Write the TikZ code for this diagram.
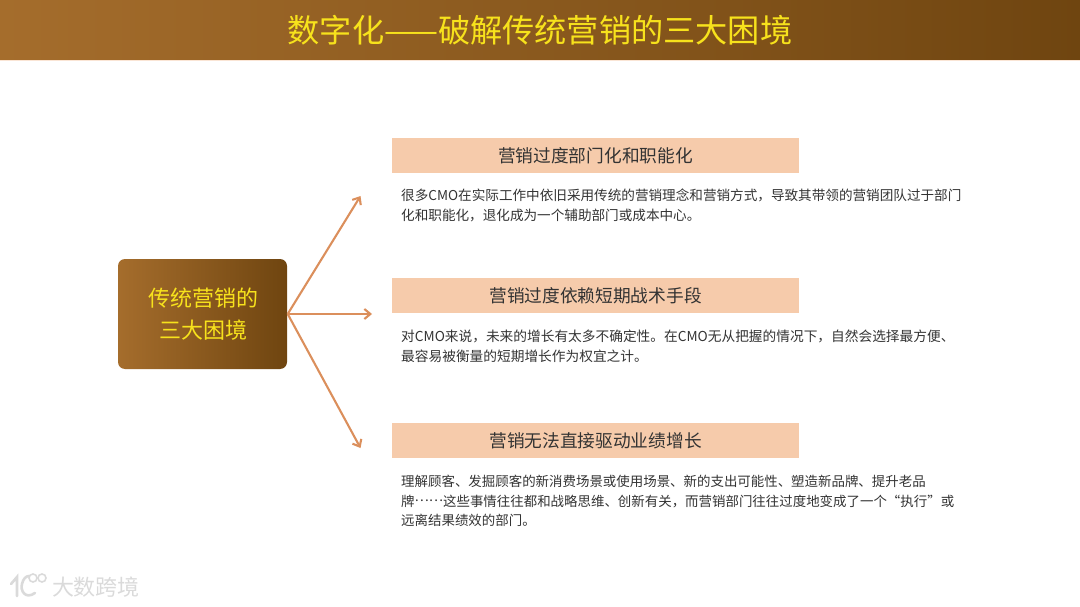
\documentclass[tikz,border=0pt]{standalone}
\usepackage{fontspec}
\setmainfont{Noto Sans CJK SC}
\usepackage{xcolor}
\usetikzlibrary{arrows.meta}
\definecolor{GoldLight}{HTML}{A56D2C}
\definecolor{GoldMid}{HTML}{94622A}
\definecolor{GoldDark}{HTML}{6F4510}
\definecolor{TitleYellow}{HTML}{F7E21C}
\definecolor{HeadPeach}{HTML}{F6CBAB}
\definecolor{ArrowTan}{HTML}{DB8F5C}
\definecolor{BodyDark}{HTML}{333333}
\definecolor{MarkGrey}{HTML}{DADADA}
\tikzset{
  headbox/.style={fill=HeadPeach,minimum width=407pt,minimum height=34.5pt,inner sep=0pt,text=BodyDark,font=\fontsize{17.7}{20}\selectfont},
  bodytext/.style={anchor=west,align=left,inner sep=0pt,text=BodyDark,font=\fontsize{13.6}{19.8}\selectfont},
  branch/.style={-{Straight Barb[length=6pt,width=10pt]},line width=2.1pt,draw=ArrowTan}
}
\begin{document}
\begin{tikzpicture}[x=1pt,y=-1pt]
\useasboundingbox (0,0) rectangle (1080,607);
\shade[left color=GoldLight,middle color=GoldMid,right color=GoldDark] (0,0) rectangle (1080,60);
\draw[line width=1pt,draw=HeadPeach!50] (0,60.5)--(1080,60.5);
\node[text=TitleYellow,font=\fontsize{32.2}{34}\selectfont,inner sep=0pt] (title) at (540,30) {数字化——破解传统营销的三大困境};
\shade[rounded corners=7pt,left color=GoldLight,right color=GoldDark] (118,259) rectangle (287,369);
\node[inner sep=0pt,minimum width=169pt,minimum height=110pt,align=center,text=TitleYellow,font=\fontsize{22}{32}\selectfont] (core) at (203,314) {\raisebox{-2pt}{传统营销的}\\\raisebox{-2pt}{三大困境}};
\node[headbox] (head1) at (595.5,155.5) {\raisebox{-1pt}{营销过度部门化和职能化}};
\node[headbox] (head2) at (595.5,295.5) {\raisebox{-1pt}{营销过度依赖短期战术手段}};
\node[headbox] (head3) at (595.5,440.5) {\raisebox{-1pt}{营销无法直接驱动业绩增长}};
\node[bodytext] (text1) at (401,205.5) {很多CMO在实际工作中依旧采用传统的营销理念和营销方式，导致其带领的营销团队过于部门\\化和职能化，退化成为一个辅助部门或成本中心。};
\node[bodytext,font=\fontsize{13.7}{19.8}\selectfont] (text2) at (401,346) {对CMO来说，未来的增长有太多不确定性。在CMO无从把握的情况下，自然会选择最方便、\\最容易被衡量的短期增长作为权宜之计。};
\node[bodytext,font=\fontsize{13.45}{19.8}\selectfont] (text3) at (401,501) {理解顾客、发掘顾客的新消费场景或使用场景、新的支出可能性、塑造新品牌、提升老品\\牌\raisebox{.33em}{……}这些事情往往都和战略思维、创新有关，而营销部门往往过度地变成了一个“执行”或\\远离结果绩效的部门。};
\coordinate (tip1) at (360.5,196);
\coordinate (tip2) at (372,314);
\coordinate (tip3) at (360.5,448);
\draw[branch] (core.east)--(tip1);
\draw[branch] (core.east)--(tip2);
\draw[branch] (core.east)--(tip3);
% watermark
\draw[line width=2.6pt,draw=MarkGrey,line cap=round] (11,584)--(17,577)--(17,596);
\draw[line width=2.6pt,draw=MarkGrey,line cap=round] (35,593) .. controls (25,600) and (20,590) .. (22,584) .. controls (23,579) and (26,576) .. (29,576);
\draw[line width=1.6pt,draw=MarkGrey] (33,578) circle[radius=4];
\draw[line width=1.6pt,draw=MarkGrey] (42,578) circle[radius=4];
\node[inner sep=0pt,text=MarkGrey,font=\fontsize{22}{24}\selectfont] (mark) at (96,587) {大数跨境};
\end{tikzpicture}
\end{document}
